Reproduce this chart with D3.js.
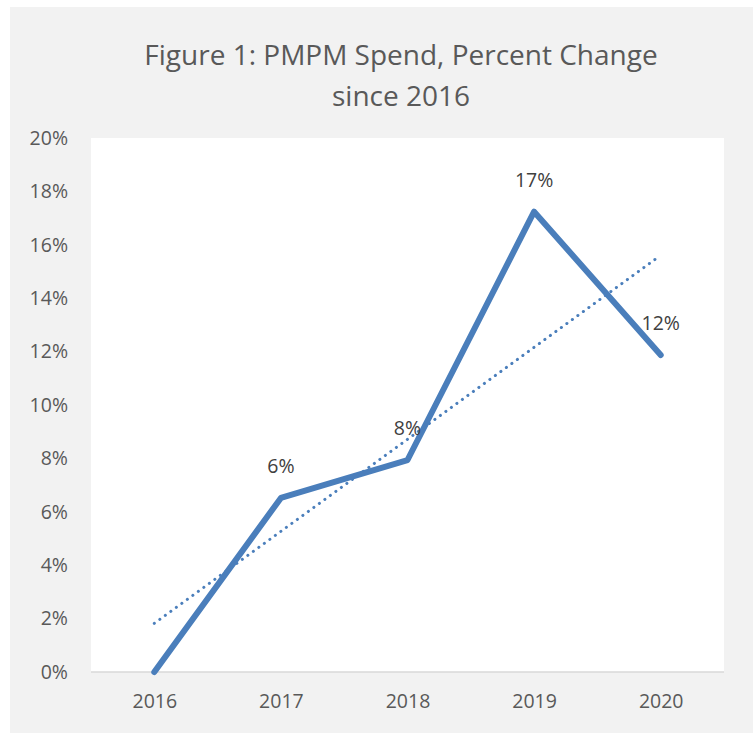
<!DOCTYPE html>
<html>
<head>
<meta charset="utf-8">
<script src="https://cdn.jsdelivr.net/npm/d3@7"></script>
<style>
  body { margin: 0; background: #fff; }
  text { font-family: "Open Sans", sans-serif; }
</style>
</head>
<body>
<div class="chart"></div>
<script>
const years = ['2016', '2017', '2018', '2019', '2020'];
const pctChange = [0, 6.52, 7.94, 17.24, 11.87];
const dataLabels = ['', '6%', '8%', '17%', '12%'];
const yTicks = [0, 2, 4, 6, 8, 10, 12, 14, 16, 18, 20];
const titleLines = ['Figure 1: PMPM Spend, Percent Change', 'since 2016'];

const W = 753, H = 733;
const plot = { left: 91, right: 724, top: 138, bottom: 672 };

const svg = d3.select('.chart')
  .append('svg')
  .attr('width', W)
  .attr('height', H);

// chart area background
svg.append('rect')
  .attr('x', 10).attr('y', 7)
  .attr('width', W - 10).attr('height', H - 7)
  .attr('fill', '#f2f2f2');

svg.append('rect')
  .attr('x', plot.left).attr('y', plot.top)
  .attr('width', plot.right - plot.left)
  .attr('height', plot.bottom - plot.top)
  .attr('fill', '#fff');

const x = d3.scalePoint()
  .domain(years)
  .range([plot.left, plot.right])
  .padding(0.5);

const y = d3.scaleLinear()
  .domain([0, 20])
  .range([plot.bottom, plot.top]);

// title
svg.append('g')
  .selectAll('text')
  .data(titleLines)
  .join('text')
  .attr('x', 401)
  .attr('y', (d, i) => 65 + i * 41)
  .attr('text-anchor', 'middle')
  .attr('font-size', 28)
  .attr('fill', '#595959')
  .text(d => d);

// y axis labels
const yAxis = d3.axisLeft(y)
  .tickValues(yTicks)
  .tickSize(0)
  .tickPadding(0)
  .tickFormat(d => d + '%');

svg.append('g')
  .attr('class', 'axis y-axis')
  .attr('transform', 'translate(68, 0)')
  .call(yAxis)
  .call(g => g.select('.domain').remove())
  .call(g => g.selectAll('text')
    .attr('font-size', 19.5)
    .attr('fill', '#595959')
    .style('font-family', '"Open Sans", sans-serif'));

// x axis
const xAxis = d3.axisBottom(x)
  .tickSize(0)
  .tickPadding(22);

svg.append('g')
  .attr('class', 'axis x-axis')
  .attr('transform', `translate(0, ${ plot.bottom })`)
  .call(xAxis)
  .call(g => g.select('.domain')
    .attr('d', `M${ plot.left },0H${ plot.right }`)
    .attr('stroke', '#d9d9d9')
    .attr('stroke-width', 1.5))
  .call(g => g.selectAll('text')
    .attr('font-size', 19.5)
    .attr('fill', '#595959')
    .style('font-family', '"Open Sans", sans-serif'));

// linear trendline (least squares over category index)
const n = pctChange.length;
const mx = d3.mean(pctChange, (d, i) => i);
const my = d3.mean(pctChange);
const slope = d3.sum(pctChange, (d, i) => (i - mx) * (d - my)) /
  d3.sum(pctChange, (d, i) => (i - mx) * (i - mx));
const icpt = my - slope * mx;

svg.append('line')
  .attr('x1', x(years[0]))
  .attr('y1', y(icpt))
  .attr('x2', x(years[n - 1]) - 4)
  .attr('y2', y(icpt + slope * (n - 1 - 4 / x.step())))
  .attr('stroke', '#4a7ebb')
  .attr('stroke-width', 3)
  .attr('stroke-linecap', 'round')
  .attr('stroke-dasharray', '0.1 6.7');

// series line
const line = d3.line()
  .x((d, i) => x(years[i]))
  .y(d => y(d));

svg.append('path')
  .datum(pctChange)
  .attr('d', line)
  .attr('fill', 'none')
  .attr('stroke', '#4a7ebb')
  .attr('stroke-width', 6)
  .attr('stroke-linejoin', 'round')
  .attr('stroke-linecap', 'round');

// data labels
svg.append('g')
  .selectAll('text')
  .data(pctChange)
  .join('text')
  .attr('x', (d, i) => x(years[i]))
  .attr('y', d => y(d) - 25)
  .attr('text-anchor', 'middle')
  .attr('font-size', 19.5)
  .attr('fill', '#404040')
  .text((d, i) => dataLabels[i]);
</script>
</body>
</html>
